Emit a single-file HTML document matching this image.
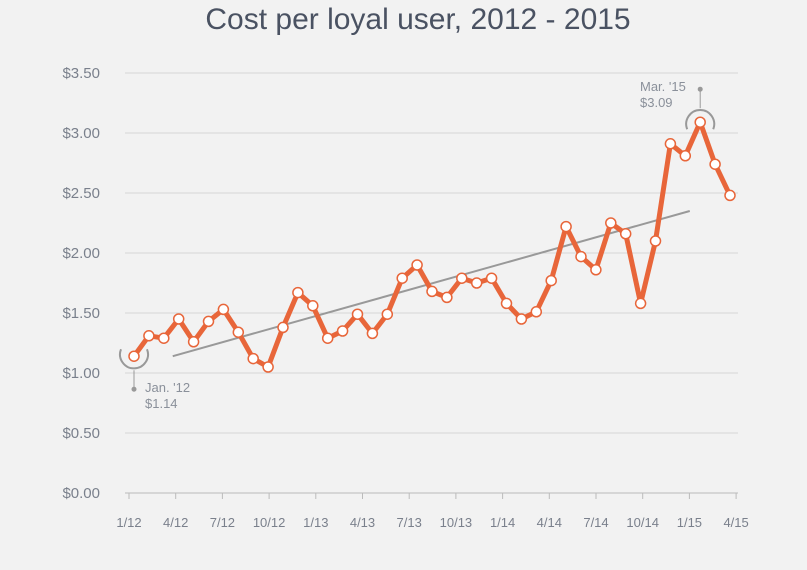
<!DOCTYPE html>
<html><head><meta charset="utf-8"><style>
body{margin:0;background:#f2f2f2;width:807px;height:565px;overflow:hidden;font-family:"Liberation Sans",sans-serif}
</style></head><body>
<svg width="807" height="565">
<text x="418" y="29" text-anchor="middle" font-size="30" fill="#4a5262" style="font-weight:300">Cost per loyal user, 2012 - 2015</text>
<g id="grid"></g><g id="ylab"></g><g id="xax"></g>
<line id="trend" stroke="#999" stroke-width="2"/>
<polyline id="line" fill="none" stroke="#e8663a" stroke-width="5" stroke-linejoin="round"/>
<g id="pts"></g>
<g id="ann"></g>
</svg>
<script>
const values=[1.14,1.31,1.29,1.45,1.26,1.43,1.53,1.34,1.12,1.05,1.38,1.67,1.56,1.29,1.35,1.49,1.33,1.49,1.79,1.90,1.68,1.63,1.79,1.75,1.79,1.58,1.45,1.51,1.77,2.22,1.97,1.86,2.25,2.16,1.58,2.10,2.91,2.81,3.09,2.74,2.48];
const yTicks=[0,0.5,1,1.5,2,2.5,3,3.5];
const yLabels=["$0.00","$0.50","$1.00","$1.50","$2.00","$2.50","$3.00","$3.50"];
const xTickLabels=["1/12","4/12","7/12","10/12","1/13","4/13","7/13","10/13","1/14","4/14","7/14","10/14","1/15","4/15"];
const trendStart=[2.6,1.14], trendEnd=[37.3,2.35];
const ns="http://www.w3.org/2000/svg";
const Y=v=>493-v*120;
const X=i=>134+i*14.9;
const XT=i=>129+i*46.7;
function mk(t,a,p){const e=document.createElementNS(ns,t);for(const k in a)e.setAttribute(k,a[k]);p.appendChild(e);return e;}
const grid=document.getElementById('grid'),yl=document.getElementById('ylab'),xa=document.getElementById('xax');
yTicks.forEach((v,i)=>{
 const l=mk('line',{x1:125,x2:738,y1:Y(v),y2:Y(v),stroke:v===0?'#bbb':'#d6d6d6','stroke-width':1},grid);
 
 
 const t=mk('text',{x:100,y:Y(v)+5,'text-anchor':'end','font-size':15,fill:'#7a808c'},yl);t.textContent=yLabels[i];
 
 
});
xTickLabels.forEach((s,i)=>{
 const l=mk('line',{x1:XT(i),x2:XT(i),y1:493,y2:499,stroke:'#bbb'},xa);
 
 
 const t=mk('text',{x:XT(i),y:527,'text-anchor':'middle','font-size':13,fill:'#7a808c'},xa);t.textContent=s;
 
 
});
const tr=document.getElementById('trend');
tr.setAttribute('x1',X(trendStart[0]));tr.setAttribute('y1',Y(trendStart[1]));
tr.setAttribute('x2',X(trendEnd[0]));tr.setAttribute('y2',Y(trendEnd[1]));
document.getElementById('line').setAttribute('points',values.map((v,i)=>X(i)+','+Y(v)).join(' '));
const pts=document.getElementById('pts');
values.forEach((v,i)=>{const c=mk('circle',{cx:X(i),cy:Y(v),r:5,fill:'#fff',stroke:'#e8663a','stroke-width':1.5},pts);
 
 });
const ann=document.getElementById('ann');
function annot(i,dy,lx,ly,txt){
 const x=X(i),y=Y(values[i]);
 const sweep=dy>0?0:1;
 const a=mk('path',{d:`M${x-13},${y-dy*7} A14,14 0 1,${sweep} ${x+13},${y-dy*7}`,fill:'none',stroke:'#999','stroke-width':2},ann);
 
 
 mk('line',{x1:x,x2:x,y1:y+dy*14,y2:y+dy*33,stroke:'#999'},ann);
 mk('circle',{cx:x,cy:y+dy*33,r:2.5,fill:'#999'},ann);
 txt.forEach((s,k)=>{const t=mk('text',{x:lx,y:ly+k*16,'font-size':13,fill:'#8a909a'},ann);t.textContent=s;
  
  });
}
annot(0,1,145,392,["Jan. '12","$1.14"]);
annot(38,-1,640,91,["Mar. '15","$3.09"]);
</script>
</body></html>
